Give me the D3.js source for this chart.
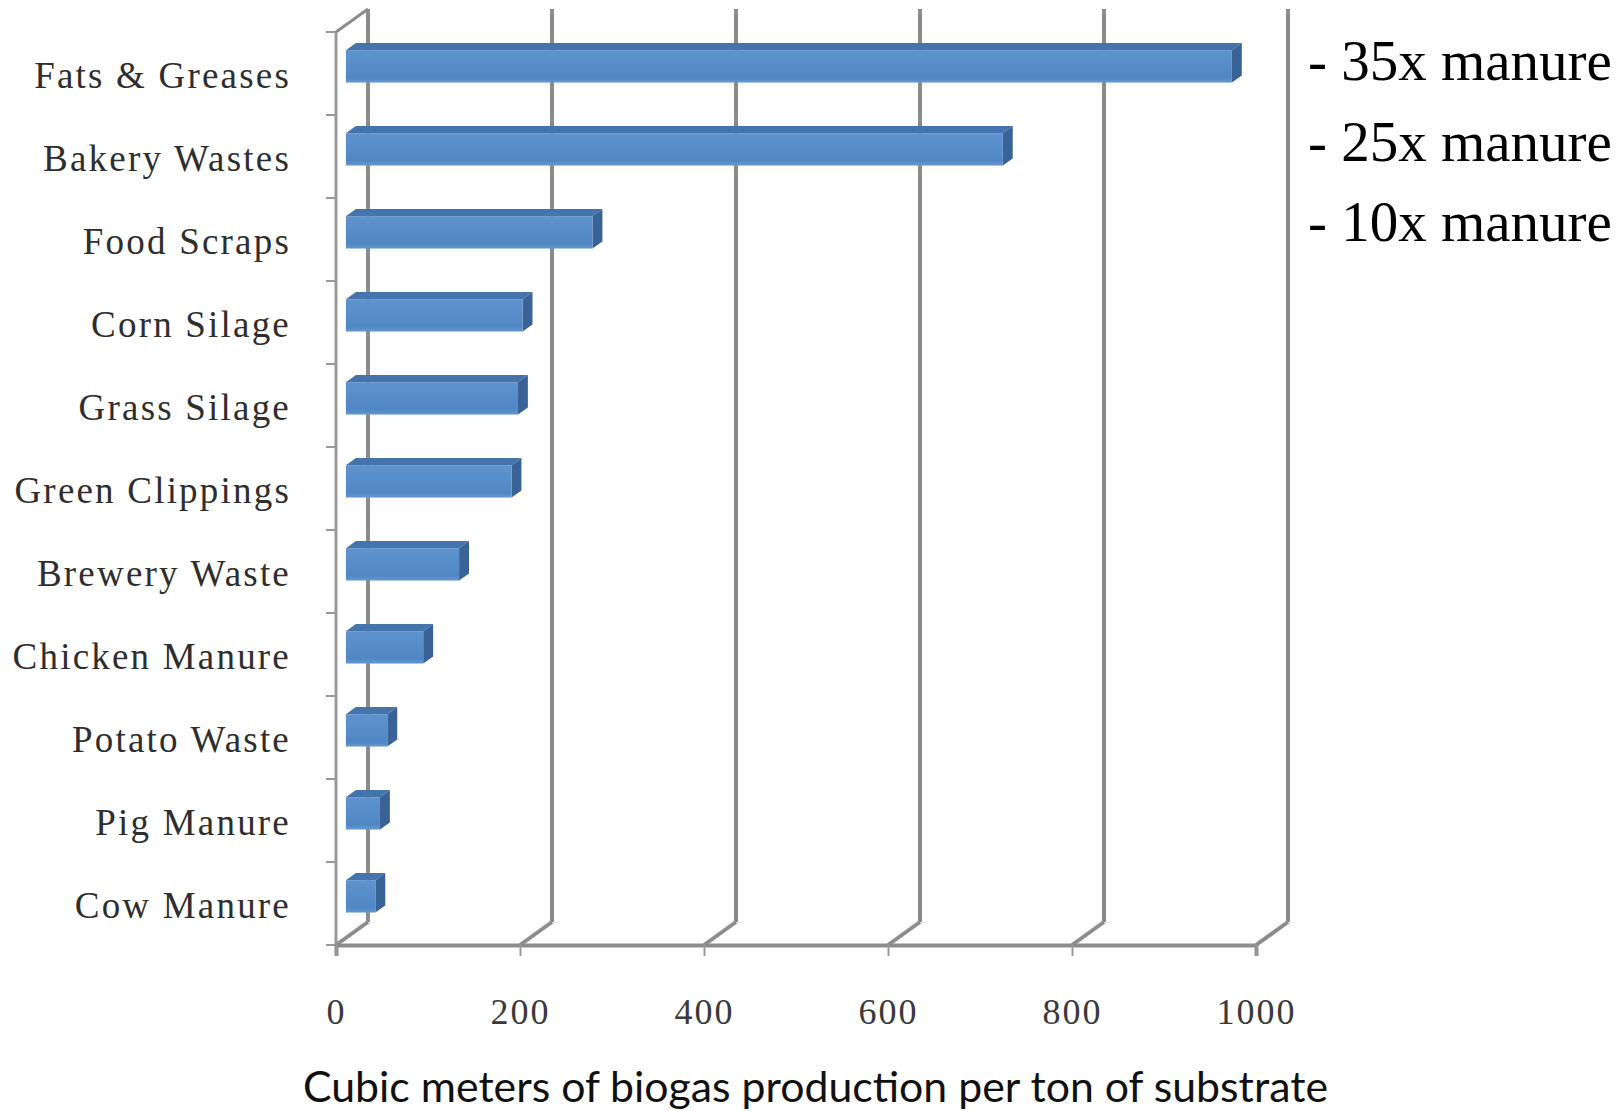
<!DOCTYPE html>
<html>
<head>
<meta charset="utf-8">
<script src="https://cdn.jsdelivr.net/npm/d3@7"></script>
<style>
  body { margin: 0; background: #fff; }
  svg { display: block; }
</style>
</head>
<body>
<script>
// biogas yield per ton of substrate, 3d-ish bar chart (excel style)
var categories = ["Fats & Greases", "Bakery Wastes", "Food Scraps", "Corn Silage",
    "Grass Silage", "Green Clippings", "Brewery Waste", "Chicken Manure",
    "Potato Waste", "Pig Manure", "Cow Manure"];
var values = [963, 714, 268, 192, 187, 180, 123, 84, 45, 37, 32];
var xTicks = [0, 200, 400, 600, 800, 1000];
var notes = ["- 35x manure", "- 25x manure", "- 10x manure"];
var axisTitle = "Cubic meters of biogas production per ton of substrate";

var width = 1623,
    height = 1111,
    // projection of the chart depth (back wall offset)
    depthX = 32,
    depthY = -23,
    // bars sit between these fractions of the depth
    frontF = 0.31,
    backF = 0.62,
    gridColor = "#8c8c8c";

var svg = d3.select("body").append("svg")
    .attr("width", width)
    .attr("height", height);

var defs = svg.append("defs");
var grad = defs.append("linearGradient")
    .attr("id", "barFront")
    .attr("x1", 0).attr("y1", 0).attr("x2", 0).attr("y2", 1);
grad.append("stop").attr("offset", "0%").attr("stop-color", "#5f93cd");
grad.append("stop").attr("offset", "85%").attr("stop-color", "#5087c3");
grad.append("stop").attr("offset", "100%").attr("stop-color", "#6698d0");

var x = d3.scaleLinear().domain([0, 1000]).range([336, 1256]);
var y = d3.scaleBand().domain(categories).range([32, 945]);

var x0 = x(0), yTop = y.range()[0], yBot = y.range()[1];

// back wall gridlines
var grid = svg.append("g").attr("class", "grid");
grid.selectAll("line.back")
    .data(xTicks)
    .enter().append("line")
    .attr("class", "back")
    .attr("x1", function(d) { return x(d) + depthX; })
    .attr("x2", function(d) { return x(d) + depthX; })
    .attr("y1", yTop + depthY)
    .attr("y2", yBot + depthY)
    .attr("stroke", gridColor)
    .attr("stroke-width", 4);

// floor diagonals
grid.selectAll("line.floor")
    .data(xTicks)
    .enter().append("line")
    .attr("class", "floor")
    .attr("x1", function(d) { return x(d); })
    .attr("x2", function(d) { return x(d) + depthX; })
    .attr("y1", yBot)
    .attr("y2", yBot + depthY)
    .attr("stroke", gridColor)
    .attr("stroke-width", 4);

// top of the left wall
grid.append("line")
    .attr("x1", x0).attr("y1", yTop)
    .attr("x2", x0 + depthX).attr("y2", yTop + depthY)
    .attr("stroke", gridColor)
    .attr("stroke-width", 3);

// front left axis with ticks on the category boundaries
var yBounds = categories.map(function(c) { return y(c); }).concat([yBot]);
svg.append("line")
    .attr("x1", x0).attr("x2", x0)
    .attr("y1", yTop).attr("y2", yBot)
    .attr("stroke", "#999")
    .attr("stroke-width", 3);
svg.append("g").selectAll("line")
    .data(yBounds)
    .enter().append("line")
    .attr("x1", x0 - 10).attr("x2", x0)
    .attr("y1", function(d) { return d; })
    .attr("y2", function(d) { return d; })
    .attr("stroke", "#999")
    .attr("stroke-width", 2);

// front bottom axis
var xAxis = d3.axisBottom(x)
    .tickValues(xTicks)
    .tickSize(11)
    .tickPadding(42)
    .tickFormat(d3.format("d"));
var gx = svg.append("g")
    .attr("transform", "translate(0," + yBot + ")")
    .call(xAxis);
gx.select(".domain").attr("stroke", gridColor).attr("stroke-width", 4);
gx.selectAll(".tick line").attr("stroke", "#999").attr("stroke-width", 2);
gx.selectAll(".tick text")
    .attr("fill", "#3a3a3a")
    .style("font-family", "'Liberation Serif', serif")
    .style("font-size", "36px")
    .style("letter-spacing", "2px");

// bars
var barH = y.bandwidth() * 0.39;
var fx = depthX * frontF, fy = depthY * frontF,
    bx = depthX * backF, by = depthY * backF;

var bars = svg.append("g").attr("class", "bars")
    .selectAll("g")
    .data(categories.map(function(c, i) { return {name: c, value: values[i]}; }))
    .enter().append("g");

function barGeom(d) {
    var yc = y(d.name) + y.bandwidth() / 2;
    return {x1: x(d.value), yt: yc - barH / 2, yb: yc + barH / 2};
}

bars.append("polygon")
    .attr("points", function(d) {
        var g = barGeom(d);
        return [[x0 + fx, g.yt + fy], [g.x1 + fx, g.yt + fy],
                [g.x1 + bx, g.yt + by], [x0 + bx, g.yt + by]].join(" ");
    })
    .attr("fill", "#4574ad");

bars.append("polygon")
    .attr("points", function(d) {
        var g = barGeom(d);
        return [[g.x1 + fx, g.yt + fy], [g.x1 + bx, g.yt + by],
                [g.x1 + bx, g.yb + by], [g.x1 + fx, g.yb + fy]].join(" ");
    })
    .attr("fill", "#396397");

bars.append("rect")
    .attr("x", x0 + fx)
    .attr("y", function(d) { return barGeom(d).yt + fy; })
    .attr("width", function(d) { return x(d.value) - x0; })
    .attr("height", barH)
    .attr("fill", "url(#barFront)");

// category labels
svg.append("g").selectAll("text")
    .data(categories)
    .enter().append("text")
    .attr("x", 291)
    .attr("y", function(d) { return y(d) + y.bandwidth() / 2; })
    .attr("dy", "0.4em")
    .attr("text-anchor", "end")
    .attr("fill", "#2e2e2e")
    .style("font-family", "'Liberation Serif', serif")
    .style("font-size", "37px")
    .style("letter-spacing", "2.2px")
    .text(function(d) { return d; });

// side notes
svg.append("g").selectAll("text")
    .data(notes)
    .enter().append("text")
    .attr("x", 1308)
    .attr("y", function(d, i) { return 80 + i * 80.5; })
    .attr("fill", "#000")
    .style("font-family", "'Liberation Serif', serif")
    .style("font-size", "57px")
    .text(function(d) { return d; });

// axis title
svg.append("text")
    .attr("x", 303)
    .attr("y", 1102)
    .attr("textLength", 1025)
    .attr("lengthAdjust", "spacingAndGlyphs")
    .attr("fill", "#111")
    .style("font-family", "Lato, sans-serif")
    .style("font-size", "43px")
    .text(axisTitle);
</script>
</body>
</html>
